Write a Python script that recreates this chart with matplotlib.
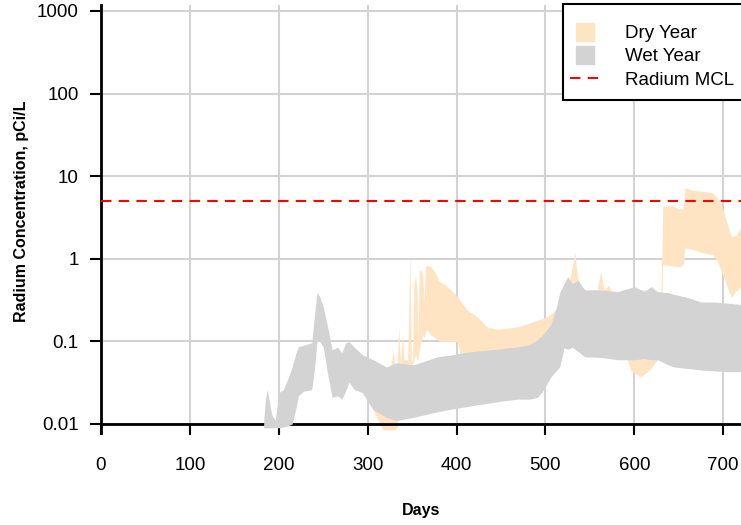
# -*- coding: utf-8 -*-
# radium concentration, dry vs wet year bands
import matplotlib
matplotlib.use('Agg')
import matplotlib.pyplot as plt
from matplotlib.lines import Line2D
from matplotlib.patches import Rectangle

plt.rcParams['font.family'] = ['Liberation Sans', 'DejaVu Sans']

# wet year band (days, lower, upper), pCi/L
wet_days = [183, 185, 187, 189, 192, 196, 200, 205, 210, 215, 219, 222, 228, 237, 240,
            243, 246, 250, 255, 260, 266, 271, 275, 279, 285, 294, 306, 321, 332, 351,
            365, 378, 392, 408, 422, 438, 452, 469, 482, 491, 497, 506, 512, 516, 521,
            525, 530, 537, 544, 561, 572, 581, 600, 611, 619, 626, 638, 645, 660, 675,
            690, 705, 720]
wet_lo = [0.009, 0.009, 0.009, 0.009, 0.009, 0.009, 0.009, 0.0092, 0.0095, 0.01, 0.015,
          0.022, 0.025, 0.026, 0.045, 0.1, 0.1, 0.086, 0.04, 0.021, 0.022, 0.02, 0.025, 0.032,
          0.026, 0.024, 0.015, 0.012, 0.011, 0.012, 0.013, 0.014, 0.015, 0.016, 0.017, 0.018,
          0.019, 0.02, 0.02, 0.021, 0.025, 0.037, 0.044, 0.049, 0.084, 0.08, 0.085, 0.075,
          0.065, 0.064, 0.062, 0.06, 0.06, 0.062, 0.06, 0.06, 0.052, 0.049, 0.047, 0.045,
          0.044, 0.043, 0.043]
wet_hi = [0.011, 0.02, 0.026, 0.02, 0.013, 0.011, 0.024, 0.026, 0.035, 0.049, 0.07, 0.086,
          0.09, 0.096, 0.2, 0.39, 0.35, 0.26, 0.15, 0.079, 0.085, 0.073, 0.096, 0.099, 0.085,
          0.069, 0.06, 0.049, 0.055, 0.052, 0.058, 0.065, 0.068, 0.073, 0.076, 0.079, 0.082,
          0.086, 0.091, 0.105, 0.12, 0.16, 0.25, 0.39, 0.5, 0.61, 0.5, 0.55, 0.42, 0.42,
          0.41, 0.40, 0.46, 0.40, 0.46, 0.40, 0.39, 0.37, 0.34, 0.30, 0.30, 0.29, 0.28]

# dry year band
dry_days = [300, 317, 326, 329, 331, 333, 335, 337, 339, 341, 343, 345, 347.5, 349, 350.5,
            352, 354, 355.5, 356.5, 358, 360, 362, 363.5, 365, 367, 371, 376, 381, 389, 401,
            406, 412, 423, 434, 446, 469, 484, 503, 514, 521, 528, 533, 536, 540, 546, 558,
            562, 566, 571, 574, 578, 590, 596, 607, 617, 626, 630, 632, 642, 652, 655, 657,
            665, 675, 688, 693, 697, 703, 709, 714, 720]
dry_lo = [0.02, 0.0085, 0.0085, 0.0085, 0.0085, 0.009, 0.02, 0.02, 0.03, 0.03, 0.04, 0.05,
          0.05, 0.05, 0.05, 0.06, 0.07, 0.06, 0.06, 0.08, 0.1, 0.12, 0.11, 0.13, 0.14, 0.12,
          0.11, 0.1, 0.1, 0.1, 0.06, 0.05, 0.05, 0.05, 0.05, 0.05, 0.06, 0.07, 0.08, 0.15,
          0.18, 0.2, 0.2, 0.2, 0.15, 0.15, 0.15, 0.15, 0.15, 0.15, 0.15, 0.07, 0.045, 0.037,
          0.045, 0.06, 0.1, 0.85, 0.82, 0.8, 0.85, 1.36, 1.3, 1.2, 1.12, 0.95, 0.74, 0.5,
          0.34, 0.4, 0.46]
dry_hi = [0.05, 0.045, 0.05, 0.08, 0.04, 0.05, 0.15, 0.05, 0.12, 0.06, 0.06, 0.06, 1.2, 0.06,
          0.06, 0.5, 0.62, 0.4, 0.1, 0.7, 0.74, 0.62, 0.3, 0.8, 0.84, 0.8, 0.68, 0.53, 0.47,
          0.35, 0.29, 0.24, 0.2, 0.15, 0.14, 0.15, 0.17, 0.2, 0.26, 0.4, 0.6, 1.2, 0.6, 0.45,
          0.42, 0.42, 0.7, 0.42, 0.48, 0.4, 0.4, 0.4, 0.4, 0.42, 0.42, 0.4, 0.4, 4.3, 4.4,
          4.0, 4.0, 7.2, 6.8, 6.6, 6.3, 5.5, 4.8, 3.0, 1.85, 1.9, 2.4]

mcl = 5.0  # radium MCL, pCi/L

fig = plt.figure(figsize=(7.41, 5.25), dpi=100)
ax = fig.add_axes([101/741, 92/525, 640/741, 428/525])

ax.fill_between(dry_days, dry_lo, dry_hi, color='bisque', lw=0, zorder=2)
ax.fill_between(wet_days, wet_lo, wet_hi, color='lightgray', lw=0, zorder=3)
ax.axhline(mcl, color='red', ls=(0, (5, 3.5)), lw=1.5, zorder=4)

ax.set_yscale('log')
ax.set_ylim(0.00778, 1182)
ax.set_xlim(0, 720)

# ticks, labels
ax.set_yticks([0.01, 0.1, 1, 10, 100, 1000])
ax.set_yticklabels(['0.01', '0.1', '1', '10', '100', '1000'])
ax.minorticks_off()
ax.set_xticks(range(0, 701, 100))
ax.tick_params(direction='out', length=8, width=1.5, labelsize=13.5, pad=8)
ax.tick_params(axis='x', pad=16)

ax.grid(True, color='lightgray', lw=1.5, zorder=0)
ax.set_axisbelow(True)

for s in ['top', 'right']:
    ax.spines[s].set_visible(False)
ax.spines['left'].set_linewidth(2)
ax.spines['bottom'].set_linewidth(2)
ax.spines['bottom'].set_position(('data', 0.01))

ax.set_ylabel('Radium Concentration, pCi/L', fontsize=11.5, fontweight='bold')
ax.yaxis.set_label_coords(-0.113, 0.519)
fig.text(421/741, 1 - 510/525, 'Days', fontsize=11.5, fontweight='bold', ha='center', va='center')

# legend box drawn by hand, runs off the right edge like the original
box = Rectangle((0.7219, 0.778), 0.29, 0.2243, transform=ax.transAxes, facecolor='white',
                edgecolor='black', lw=1.5, clip_on=False, zorder=9)
ax.add_patch(box)

handles = [Line2D([], [], marker='s', ms=13, color='bisque', ls='none'),
           Line2D([], [], marker='s', ms=13, color='lightgray', ls='none'),
           Line2D([], [], color='red', ls=(0, (5, 3.5)), lw=1.5)]
leg = fig.legend(handles, ['Dry Year', 'Wet Year', 'Radium MCL'], loc='upper left',
                 bbox_to_anchor=(570/741, 1 - 25/525), borderaxespad=0, borderpad=0,
                 fontsize=13.5, frameon=False, handlelength=1.65, handletextpad=1.28,
                 labelspacing=0.33)
leg.set_zorder(10)

plt.savefig('out.png', dpi=100)
